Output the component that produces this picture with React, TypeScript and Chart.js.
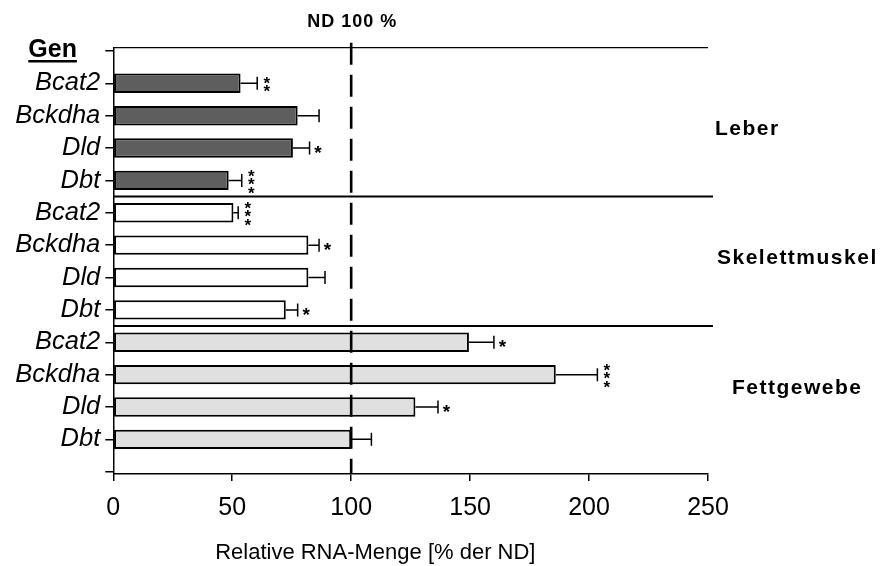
import React, { useEffect, useRef } from 'react';
import { Chart, registerables } from 'chart.js';

Chart.register(...registerables);

// Genes shown in every tissue block (top to bottom)
const genes = ['Bcat2', 'Bckdha', 'Dld', 'Dbt'];
const tissues = ['Leber', 'Skelettmuskel', 'Fettgewebe'];

// Relative RNA amount [% of ND], mean and error per gene
const leberValues = [53.5, 77.5, 75.5, 48.5];
const leberErrors = [7, 9, 7, 5.5];
const leberSig = ['**', '', '*', '***'];

const muskelValues = [50.5, 82, 82, 72.5];
const muskelErrors = [2, 4.5, 7, 5];
const muskelSig = ['***', '*', '', '*'];

const fettValues = [149.5, 186, 127, 100];
const fettErrors = [10.5, 17.5, 9.5, 8.5];
const fettSig = ['*', '***', '*', ''];

const xTicks = [0, 50, 100, 150, 200, 250];
const referenceValue = 100;
const referenceLabel = 'ND 100 %';
const axisTitle = 'Relative RNA-Menge [% der ND]';
const headerLabel = 'Gen';

const FONT = "'Liberation Sans', Arial, sans-serif";

// one empty row above and below the gene rows
const rowLabels = ['', ...genes, ...genes, ...genes, ''];

const groups = [
  { values: leberValues, errors: leberErrors, sig: leberSig, fill: '#5e5e5e' },
  { values: muskelValues, errors: muskelErrors, sig: muskelSig, fill: '#ffffff' },
  { values: fettValues, errors: fettErrors, sig: fettSig, fill: '#e0e0e0' },
];

const overlayPlugin = {
  id: 'overlay',
  afterDatasetsDraw(chart: any) {
    const { ctx, chartArea, scales } = chart;
    const x = scales.x;
    const y = scales.y;
    ctx.save();
    ctx.strokeStyle = '#000';
    ctx.fillStyle = '#000';

    // frame line on top of the plot
    ctx.lineWidth = 1.2;
    ctx.beginPath();
    ctx.moveTo(chartArea.left, chartArea.top);
    ctx.lineTo(chartArea.right, chartArea.top);
    ctx.stroke();

    // separators between tissue blocks
    ctx.lineWidth = 2;
    [4.5, 8.5].forEach((v) => {
      const py = y.getPixelForValue(v);
      ctx.beginPath();
      ctx.moveTo(chartArea.left, py);
      ctx.lineTo(chartArea.right + 5, py);
      ctx.stroke();
    });

    // error bars and significance stars
    groups.forEach((g, di) => {
      const meta = chart.getDatasetMeta(di);
      meta.data.forEach((bar: any, i: number) => {
        const x0 = x.getPixelForValue(g.values[i]);
        const x1 = x.getPixelForValue(g.values[i] + g.errors[i]);
        const yc = bar.y;
        ctx.lineWidth = 1.5;
        ctx.beginPath();
        ctx.moveTo(x0, yc);
        ctx.lineTo(x1, yc);
        ctx.moveTo(x1, yc - 6.5);
        ctx.lineTo(x1, yc + 6.5);
        ctx.stroke();

        const stars = g.sig[i];
        if (stars) {
          const n = stars.length;
          const size = n > 1 ? 17 : 19;
          ctx.font = `bold ${size}px ${FONT}`;
          ctx.textAlign = 'center';
          ctx.textBaseline = 'alphabetic';
          const sx = x1 + (n > 1 ? 9.5 : 8.5);
          for (let k = 0; k < n; k++) {
            const cy = yc + (k - (n - 1) / 2) * 8.6;
            ctx.fillText('*', sx, cy + 0.57 * size);
          }
        }
      });
    });

    // dashed reference line at ND = 100 %
    const rx = x.getPixelForValue(referenceValue);
    ctx.lineWidth = 2.6;
    ctx.setLineDash([22, 10]);
    ctx.beginPath();
    ctx.moveTo(rx, chartArea.top - 5);
    ctx.lineTo(rx, chartArea.bottom);
    ctx.stroke();
    ctx.setLineDash([]);

    ctx.textBaseline = 'middle';
    (ctx as any).letterSpacing = '1px';
    ctx.font = `bold 18px ${FONT}`;
    ctx.textAlign = 'center';
    ctx.fillText(referenceLabel, rx + 1, chartArea.top - 25.5);

    // tissue names on the right
    (ctx as any).letterSpacing = '1.5px';
    ctx.font = `bold 21px ${FONT}`;
    ctx.textAlign = 'left';
    const tissueOffsets = [7, 9, 24];
    tissues.forEach((t, ti) => {
      const py = y.getPixelForValue(ti * 4 + 2.5) - 3;
      ctx.fillText(t, chartArea.right + tissueOffsets[ti], py);
    });
    (ctx as any).letterSpacing = '0px';

    // column header with underline
    ctx.font = `bold 25px ${FONT}`;
    ctx.textAlign = 'left';
    ctx.textBaseline = 'alphabetic';
    const hx = chartArea.left - 85;
    const hy = chartArea.top + 9;
    ctx.fillText(headerLabel, hx, hy);
    const hw = ctx.measureText(headerLabel).width;
    ctx.lineWidth = 2.6;
    ctx.beginPath();
    ctx.moveTo(hx, hy + 4.5);
    ctx.lineTo(hx + hw, hy + 4.5);
    ctx.stroke();

    // x axis title
    ctx.font = `22px ${FONT}`;
    ctx.textAlign = 'center';
    ctx.textBaseline = 'middle';
    ctx.fillText(axisTitle, chartArea.left + 262, chartArea.bottom + 79);

    ctx.restore();
  },
};

export default function App() {
  const canvasRef = useRef<HTMLCanvasElement | null>(null);

  useEffect(() => {
    const canvas = canvasRef.current;
    if (!canvas) return;

    const datasets = groups.map((g, ti) => ({
      label: tissues[ti],
      data: g.values.map((v, gi) => ({ x: v, y: ti * 4 + gi + 1 })),
      backgroundColor: g.fill,
      borderColor: '#000',
      borderWidth: 2,
      borderSkipped: false,
      grouped: false,
      barPercentage: 0.6,
      categoryPercentage: 1,
    }));

    const chart = new Chart(canvas, {
      type: 'bar',
      data: { datasets },
      plugins: [overlayPlugin],
      options: {
        indexAxis: 'y',
        animation: false,
        responsive: false,
        devicePixelRatio: 1,
        layout: { padding: { top: 47.7, right: 172, left: 0, bottom: 0 } },
        plugins: {
          legend: { display: false },
          tooltip: { enabled: false },
        },
        scales: {
          x: {
            type: 'linear',
            min: 0,
            max: 250,
            offset: false,
            afterBuildTicks: (s: any) => {
              s.ticks = xTicks.map((v) => ({ value: v }));
            },
            afterFit: (s: any) => {
              s.height = 92;
            },
            grid: { drawOnChartArea: false, offset: false, tickLength: 7, color: '#000', lineWidth: 1.5 },
            border: { color: '#000', width: 1.5 },
            ticks: {
              color: '#000',
              font: { family: FONT, size: 25 },
              padding: 12,
              maxRotation: 0,
              autoSkip: false,
            },
          },
          y: {
            type: 'linear',
            reverse: true,
            offset: false,
            min: -0.1,
            max: 13.07,
            afterBuildTicks: (s: any) => {
              s.ticks = rowLabels.map((_, i) => ({ value: i }));
            },
            afterFit: (s: any) => {
              s.width = 113.3;
            },
            grid: { drawOnChartArea: false, offset: false, tickLength: 8, color: '#000', lineWidth: 1.5 },
            border: { color: '#000', width: 1.5 },
            ticks: {
              color: '#000',
              font: { family: FONT, size: 25.5, style: 'italic' },
              padding: 5,
              autoSkip: false,
              callback: (v: any) => rowLabels[v] ?? '',
            },
          },
        },
      } as any,
    });

    return () => chart.destroy();
  }, []);

  return (
    <div style={{ position: 'absolute', left: 0, top: 0, width: 880, height: 566, background: '#fff' }}>
      <canvas ref={canvasRef} width={880} height={566} />
    </div>
  );
}
